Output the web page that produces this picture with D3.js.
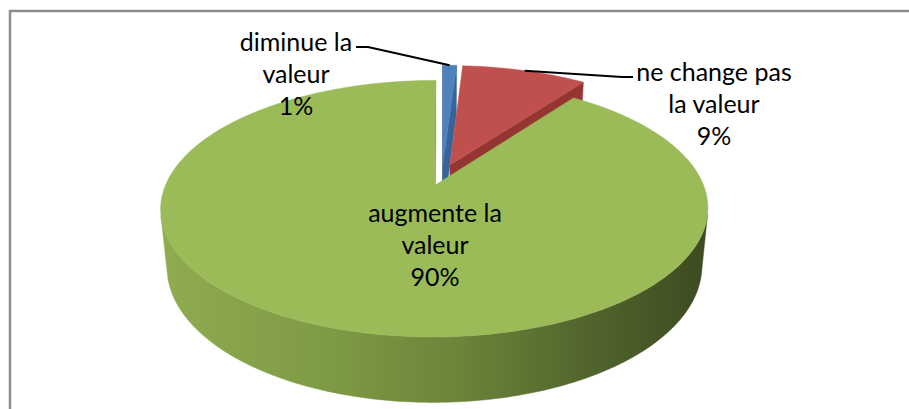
<!DOCTYPE html>
<html>
<head>
<meta charset="utf-8">
<script src="https://cdn.jsdelivr.net/npm/d3@7"></script>
<style>
body{margin:0;background:#fff;}
svg{display:block;}
text{font-family:Lato,"Open Sans",sans-serif;font-size:25px;fill:#000;}
</style>
</head>
<body>
<svg id="chart" width="909" height="409"></svg>
<script>
// data
var categories = [["diminue la","valeur"],["ne change pas","la valeur"],["augmente la","valeur"]];
var values = [1, 9, 90];
var topColors = ["#4f81bd","#c0504d","#9bbb59"];
var cutColors = ["#39649a","#953532","#6f8a3b"];
var wallColors = ["#3f6aa0","#9a3835","url(#greenSide)"];

// 3d view
var alpha = 27*Math.PI/180, camD = 5, focal = 1325, cx = 442, cy = 175;
var thick = 0.245, explode = 0.09;

function proj(X,Y,Z){
	var d = camD-(Y*Math.sin(alpha)+Z*Math.cos(alpha));
	var yc = Y*Math.cos(alpha)-Z*Math.sin(alpha);
	return [cx+focal*X/d, cy-focal*yc/d];
}
function area(p){
	var s=0;
	for(var i=0;i<p.length;i++){var q=p[(i+1)%p.length];s+=p[i][0]*q[1]-q[0]*p[i][1];}
	return s/2;
}

var svg = d3.select("#chart");
var grad = svg.append("defs").append("linearGradient")
	.attr("id","greenSide").attr("gradientUnits","userSpaceOnUse")
	.attr("x1",160).attr("x2",710).attr("y1",0).attr("y2",0);
[[0,"#8fac50"],[0.3,"#7e9b45"],[0.55,"#6a843a"],[0.8,"#4f622b"],[1,"#3c4a20"]].forEach(function(s){
	grad.append("stop").attr("offset",s[0]).attr("stop-color",s[1]);
});

svg.append("rect")
	.attr("x",10).attr("y",11).attr("width",930).attr("height",430)
	.attr("fill","none").attr("stroke","#8c8c8c").attr("stroke-width",2.5);

var arcs = d3.pie().sort(null).value(function(d){return d;})(values);
var line = d3.line();
var total = d3.sum(values);

arcs.forEach(function(a,i){
	a.i=i;
	a.mid=(a.startAngle+a.endAngle)/2;
	a.ox=explode*Math.sin(a.mid);
	a.oz=-explode*Math.cos(a.mid);
});
function pt(a,th,r,Y){return proj(a.ox+r*Math.sin(th),Y,a.oz-r*Math.cos(th));}

var pie = svg.append("g");
arcs.slice().sort(function(p,q){return p.oz-q.oz;}).forEach(function(a){
	var n = Math.max(2,Math.ceil((a.endAngle-a.startAngle)/(Math.PI/180)));
	var ths = d3.range(n+1).map(function(k){return a.startAngle+(a.endAngle-a.startAngle)*k/n;});
	var gs = pie.append("g");

	// outer wall, front facing runs only
	var runs=[],cur=null;
	for(var k=0;k<n;k++){
		var quad=[pt(a,ths[k],1,0),pt(a,ths[k+1],1,0),pt(a,ths[k+1],1,-thick),pt(a,ths[k],1,-thick)];
		if(area(quad)<0){
			if(!cur){cur=[k];runs.push(cur);}
			cur.push(k+1);
		} else cur=null;
	}
	runs.forEach(function(run){
		var poly = run.map(function(k){return pt(a,ths[k],1,0);})
			.concat(run.slice().reverse().map(function(k){return pt(a,ths[k],1,-thick);}));
		gs.append("path").attr("d",line(poly)+"Z")
			.attr("fill",wallColors[a.i]).attr("stroke",wallColors[a.i]).attr("stroke-width",0.5);
	});

	// cut faces
	var apexT=pt(a,0,0,0), apexB=pt(a,0,0,-thick);
	[[a.startAngle,-1],[a.endAngle,1]].forEach(function(f){
		var quad=[apexT,pt(a,f[0],1,0),pt(a,f[0],1,-thick),apexB];
		if(area(quad)*f[1]>0){
			gs.append("path").attr("d",line(quad)+"Z")
				.attr("fill",cutColors[a.i]).attr("stroke",cutColors[a.i]).attr("stroke-width",0.5);
		}
	});

	// top
	var top=[apexT].concat(ths.map(function(th){return pt(a,th,1,0);}));
	gs.append("path").attr("d",line(top)+"Z")
		.attr("fill",topColors[a.i]).attr("stroke",topColors[a.i]).attr("stroke-width",0.5);
});

// labels
var labelPos = [[296,51],[714,81],[435,222]];
var leaderFrom = [[[356,47],[368,47]],[[633,77],[622,77]],null];
var lineGap = 32;

arcs.forEach(function(a,i){
	var lines = categories[i].concat([Math.round(values[i]/total*100)+"%"]);
	var t = svg.append("text").attr("text-anchor","middle");
	lines.forEach(function(s,j){
		t.append("tspan").attr("x",labelPos[i][0]).attr("y",labelPos[i][1]+j*lineGap).text(s);
	});
	if(leaderFrom[i]){
		var pts = leaderFrom[i].concat([pt(a,a.mid,1,0)]);
		svg.append("path").attr("d",line(pts))
			.attr("fill","none").attr("stroke","#000").attr("stroke-width",2);
	}
});
</script>
</body>
</html>
